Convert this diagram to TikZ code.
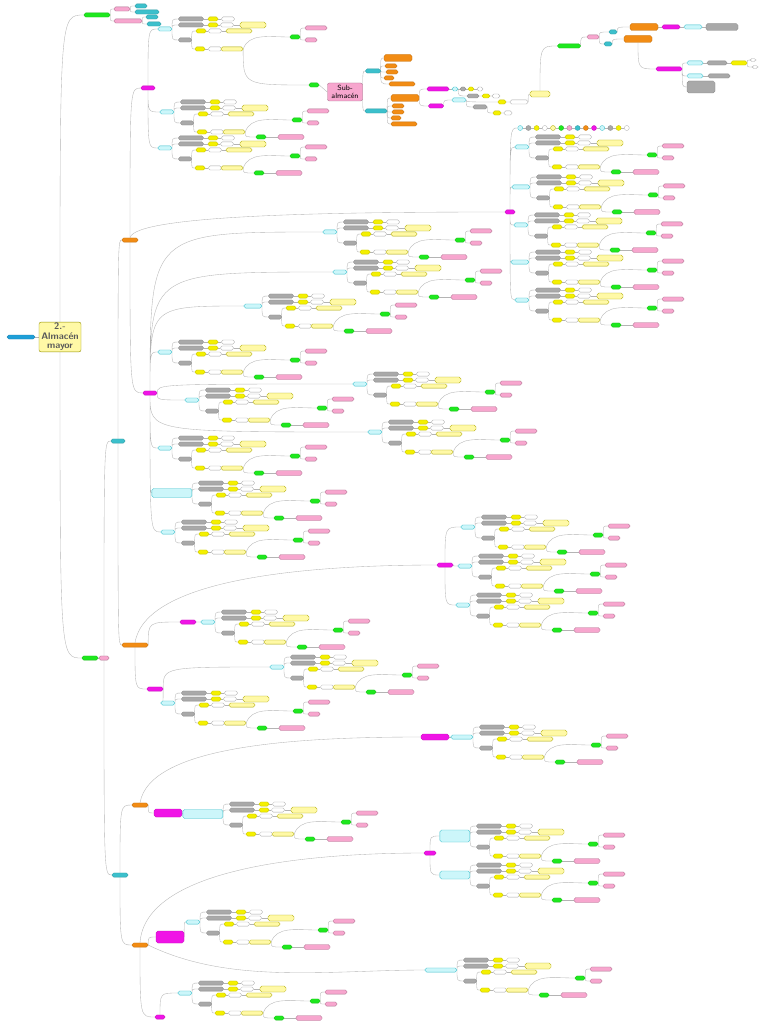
\documentclass[tikz,border=0pt]{standalone}
\usepackage{tikz}
\usetikzlibrary{backgrounds}
\usepackage{xcolor}

\definecolor{grnC}{HTML}{1EE81E}
\definecolor{magC}{HTML}{F014E6}
\definecolor{pnkC}{HTML}{F7A6CE}
\definecolor{teaC}{HTML}{3CC0CC}
\definecolor{lcyC}{HTML}{CCF6FA}
\definecolor{gryC}{HTML}{A9A9A9}
\definecolor{ylwC}{HTML}{F4F000}
\definecolor{lylC}{HTML}{FFF9A6}
\definecolor{orgC}{HTML}{F28C14}
\definecolor{bluC}{HTML}{1E9FD8}
\definecolor{lnkC}{HTML}{B4B4B4}

\tikzset{
  pill/.style={rounded corners=1.8pt, inner sep=0pt, minimum height=4.2pt, minimum width=10pt, line width=0.3pt},
  grn/.style={pill, fill=grnC, draw=grnC!80!black},
  mag/.style={pill, fill=magC, draw=magC!80!black, minimum width=15pt},
  pnk/.style={pill, fill=pnkC, draw=pnkC!70!black},
  tea/.style={pill, fill=teaC, draw=teaC!80!black},
  lcy/.style={pill, fill=lcyC, draw=teaC},
  gry/.style={pill, fill=gryC, draw=gryC!80!black},
  ylw/.style={pill, fill=ylwC, draw=ylwC!80!black},
  wht/.style={pill, fill=white, draw=gryC, minimum width=13pt},
  lyl/.style={pill, fill=lylC, draw=ylwC!70!black},
  org/.style={pill, fill=orgC, draw=orgC!80!black, minimum width=15pt},
  link/.style={draw=lnkC, line width=0.35pt},
  elb/.style={to path={.. controls (\tikztostart |- \tikztotarget) .. (\tikztotarget)}},
}

% bloque tipo: #1 posicion, #2 prefijo, #3 opciones del nodo cian
\newcommand{\blkbase}[3]{%
\begin{scope}[shift={#1}]
  \node[lcy, anchor=east, minimum width=14pt, #3] (#2c) at (7,0) {};
  \node[gry, minimum width=25pt] (#2g1) at (26,-10) {};
  \node[ylw] (#2y1) at (48,-10) {};
  \node[wht] (#2w1) at (63,-10) {};
  \node[gry, minimum width=25pt] (#2g2) at (26,-4) {};
  \node[ylw] (#2y2) at (48,-4) {};
  \node[wht] (#2w2) at (62,-4) {};
  \node[lyl, minimum width=26pt, minimum height=6pt] (#2l2) at (88,-4) {};
  \node[gry, minimum width=13pt] (#2g3) at (20,11) {};
  \node[ylw] (#2y3) at (36,2) {};
  \node[wht] (#2w3) at (50,2) {};
  \node[lyl, minimum width=26pt] (#2l3) at (74,2) {};
  \node[ylw] (#2y4) at (35,20) {};
  \node[wht] (#2w4) at (50,20) {};
  \node[lyl, minimum width=22pt] (#2l4) at (67,20) {};
  \node[grn] (#2ga) at (130,8) {};
  \node[pnk, minimum width=22pt] (#2pa) at (151,-1) {};
  \node[pnk, minimum width=12pt] (#2pb) at (146,11) {};
\end{scope}
\begin{scope}[on background layer]
  \draw[link] (#2c.east) to[elb] (#2g1.west) (#2c.east) to[elb] (#2g2.west)
    (#2c.east) to[elb] (#2g3.west);
  \draw[link] (#2g1.east) -- (#2y1.west) (#2y1.east) -- (#2w1.west);
  \draw[link] (#2g2.east) -- (#2y2.west) (#2y2.east) -- (#2w2.west) (#2w2.east) -- (#2l2.west);
  \draw[link] (#2g3.east) to[elb] (#2y3.west) (#2g3.east) to[elb] (#2y4.west);
  \draw[link] (#2y3.east) -- (#2w3.west) (#2w3.east) -- (#2l3.west);
  \draw[link] (#2y4.east) -- (#2w4.west) (#2w4.east) -- (#2l4.west);
  \draw[link] (#2l4.east) .. controls +(6,-16) and +(-22,0) .. (#2ga.west);
  \draw[link] (#2ga.east) to[elb] (#2pa.west) (#2ga.east) to[elb] (#2pb.west);
\end{scope}}

\newcommand{\blkend}[2]{%
\begin{scope}[shift={#1}]
  \node[grn] (#2gb) at (94,25) {};
  \node[pnk, minimum width=26pt, minimum height=5pt] (#2pc) at (124,25) {};
\end{scope}
\begin{scope}[on background layer]
  \draw[link] (#2l4.east) to[elb] (#2gb.west);
  \draw[link] (#2gb.east) -- (#2pc.west);
\end{scope}}

\newcommand{\blk}[3]{\blkbase{#1}{#2}{#3}\blkend{#1}{#2}}

\begin{document}
\begin{tikzpicture}[x=1pt, y=-1pt]

\useasboundingbox (0,0) rectangle (768,1024);
\begin{scope}[on background layer]
  \fill[white] (0,0) rectangle (768,1024);
\end{scope}

% Raiz
\node[fill=lylC, draw=ylwC!60!black, rounded corners=2pt, minimum width=42pt, minimum height=29pt,
  inner sep=1pt, align=center, text=black!65,
  font=\fontsize{9.5}{9.5}\selectfont\sffamily\bfseries] (root) at (60,337) {2.-\\Almacén\\mayor};
\node[pill, fill=bluC, draw=bluC!80!black, minimum width=28pt, minimum height=4pt] (blue) at (21,337) {};

% Rama superior
\node[grn, minimum width=26pt] (G1) at (97,15) {};
\node[pnk, minimum width=16pt] (PA) at (122,9) {};
\node[pnk, minimum width=28pt] (PB) at (128,21) {};
\node[tea, minimum width=12pt] (TL1) at (141,6) {};
\node[tea, minimum width=24pt] (TL2) at (147,12) {};
\node[tea, minimum width=12pt] (TL3) at (152,17) {};
\node[tea, minimum width=14pt] (TL4) at (154,24) {};

% Tronco
\node[grn, minimum width=16pt] (G2) at (90,658) {};
\node[pnk] (P2) at (104,658) {};
\node[tea, minimum width=14pt] (T1) at (118,441) {};
\node[tea, minimum width=16pt] (T2) at (120,875) {};
\node[org, minimum width=16pt] (O1) at (130,240) {};
\node[org, minimum width=26pt] (O2) at (135,645) {};
\node[org, minimum width=16pt] (O3) at (140,805) {};
\node[org, minimum width=16pt] (O4) at (140,945) {};

% Nodos magenta
\node[mag, minimum width=14pt] (M1) at (148,88) {};
\node[mag, minimum width=14pt] (M2) at (150,393) {};
\node[mag, minimum width=10pt] (HR) at (510,212) {};
\node[mag, minimum width=16pt] (M3) at (188,622) {};
\node[mag, minimum width=16pt] (M4) at (155,689) {};
\node[mag, minimum width=16pt] (M5) at (445,565) {};
\node[mag, minimum width=28pt, minimum height=8pt] (M6) at (168,813) {};
\node[mag, minimum width=28pt, minimum height=6pt] (M7) at (435,737) {};
\node[mag, minimum width=12pt] (M8) at (430,853) {};
\node[mag, minimum width=28pt, minimum height=12pt] (M9) at (170,937) {};
\node[mag, minimum width=10pt] (M10) at (160,1017) {};

% Bloques
\blkbase{(165,29)}{t}{}
\blk{(167,112)}{a1}{}
\blk{(165,148)}{a2}{}
\blk{(522,147)}{r1}{}
\blk{(523,187)}{r2}{minimum width=18pt}
\blk{(521,225)}{r3}{}
\blk{(522,262)}{r4}{minimum width=18pt}
\blk{(522,300)}{r5}{}
\blk{(330,232)}{m1}{}
\blk{(340,272)}{m2}{}
\blk{(255,306)}{m3}{minimum width=18pt}
\blk{(165,352)}{m4}{}
\blk{(192,400)}{m5}{}
\blk{(360,384)}{m6}{}
\blk{(375,432)}{m7}{}
\blk{(165,448)}{m8}{}
\blk{(185,493)}{m9}{minimum width=40pt, minimum height=9pt}
\blk{(168,532)}{m10}{}
\blk{(208,622)}{n1}{}
\blk{(168,703)}{n2}{}
\blk{(277,667)}{n3}{}
\blk{(468,527)}{n4}{}
\blk{(465,566)}{n5}{}
\blk{(463,605)}{n6}{}
\blk{(216,814)}{n7}{minimum width=40pt, minimum height=9pt}
\blk{(466,737)}{n8}{minimum width=22pt}
\blk{(463,836)}{n9}{minimum width=30pt, minimum height=12pt}
\blk{(463,875)}{n10}{minimum width=30pt, minimum height=8pt}
\blk{(193,922)}{n11}{}
\blk{(185,993)}{n12}{}
\blk{(450,970)}{n13}{minimum width=32pt}

% Fila de circulos
\foreach \s [count=\i] in {lcy,gry,ylw,wht,lyl,grn,pnk,tea,org,mag,lcy,gry,ylw,wht}
  \node[\s, minimum width=5pt, minimum height=5pt, rounded corners=2.5pt] (c\i) at ({512+8.2*\i},128) {};

% Sub-almacen
\node[grn] (tgb) at (314,85) {};
\node[fill=pnkC, draw=pnkC!70!black, rounded corners=2pt, minimum width=35pt, minimum height=18pt,
  inner sep=1pt, align=center, font=\fontsize{7.5}{8}\selectfont\sffamily] (sub) at (345,92) {Sub-\\almacén};
\node[tea, minimum width=15pt] (SA) at (373,71) {};
\node[tea, minimum width=22pt] (SB) at (376,111) {};
\node[org, minimum width=28pt, minimum height=7pt] (SA1) at (398,58) {};
\node[org, minimum width=12pt] (SA2) at (391,66) {};
\node[org, minimum width=12pt] (SA3) at (392,72) {};
\node[org, minimum width=10pt] (SA4) at (389,78) {};
\node[org, minimum width=26pt] (SA5) at (402,84) {};
\node[org, minimum width=28pt, minimum height=7pt] (SB1) at (405,98) {};
\node[org, minimum width=12pt] (SB2) at (398,106) {};
\node[org, minimum width=12pt] (SB3) at (398,112) {};
\node[org, minimum width=10pt] (SB4) at (396,118) {};
\node[org, minimum width=26pt] (SB5) at (404,124) {};
\node[mag, minimum width=22pt] (MA) at (438,89) {};
\node[mag, minimum width=15pt] (MB) at (436,106) {};
\node[lcy, minimum width=6pt, minimum height=4pt] (k1) at (455,89) {};
\node[gry, minimum width=6pt, minimum height=4pt] (k2) at (463,89) {};
\node[ylw, minimum width=6pt, minimum height=4pt] (k3) at (471,89) {};
\node[wht, minimum width=6pt, minimum height=4pt] (k4) at (480,89) {};
\node[gry, minimum width=12pt, minimum height=4pt] (k5) at (473,96) {};
\node[ylw, minimum width=8pt, minimum height=4pt] (k6) at (486,96) {};
\node[wht, minimum width=8pt, minimum height=4pt] (k7) at (496,96) {};
\node[lcy, minimum width=14pt] (Cb) at (459,100) {};
\node[gry, minimum width=14pt] (Gb) at (480,107) {};
\node[ylw, minimum width=8pt] (Yb2) at (497,113) {};
\node[wht, minimum width=8pt] (Wb2) at (508,113) {};
\node[ylw, minimum width=8pt] (Yb1) at (502,102) {};
\node[wht, minimum width=18pt] (Wb1) at (519,102) {};
\node[lyl, minimum width=20pt, minimum height=6pt] (LYb) at (540,94) {};

% Esquina superior derecha
\node[grn, minimum width=23pt] (GR) at (569,46) {};
\node[pnk, minimum width=12pt] (PR) at (593,37) {};
\node[tea, minimum width=8pt] (TR1) at (613,32) {};
\node[tea, minimum width=8pt] (TR2) at (608,44) {};
\node[org, minimum width=28pt, minimum height=7pt] (OR1) at (644,27) {};
\node[org, minimum width=28pt, minimum height=7pt] (OR2) at (638,39) {};
\node[mag, minimum width=18pt] (MG1) at (671,27) {};
\node[lcy, minimum width=18pt] (LC1) at (693,27) {};
\node[gry, minimum width=32pt, minimum height=7pt] (GY1) at (722,27) {};
\node[mag, minimum width=26pt] (MR) at (669,69) {};
\node[lcy, minimum width=16pt] (LC2) at (695,63) {};
\node[gry, minimum width=20pt] (GY2) at (717,63) {};
\node[ylw, minimum width=16pt] (YL2) at (739,63) {};
\node[wht, minimum width=6pt, minimum height=3pt] (WS1) at (753,60) {};
\node[wht, minimum width=6pt, minimum height=3pt] (WS2) at (755,67) {};
\node[lcy, minimum width=16pt] (LC3) at (695,76) {};
\node[gry, minimum width=22pt] (GY3) at (719,76) {};
\node[gry, minimum width=28pt, minimum height=12pt] (GB) at (701,87) {};

% Conectores
\begin{scope}[on background layer]
  \draw[link] (blue.east) -- (root.west);
  \draw[link] (root.north) to[elb] (G1.west) (root.south) to[elb] (G2.west);
  \draw[link] (G1.east) to[elb] (PA.west) (G1.east) to[elb] (PB.west);
  \draw[link] (PA.east) to[elb] (TL1.west) (PA.east) to[elb] (TL2.west);
  \draw[link] (PB.east) to[elb] (TL3.west) (PB.east) to[elb] (TL4.west);
  \draw[link] (G2.east) -- (P2.west);
  \draw[link] (P2.north) to[elb] (T1.west) (P2.south) to[elb] (T2.west);
  \draw[link] (T1.north) to[elb] (O1.west) (T1.south) to[elb] (O2.west);
  \draw[link] (T2.north) to[elb] (O3.west) (T2.south) to[elb] (O4.west);

  % O1
  \draw[link] (O1.north) to[elb] (M1.west) (O1.south) to[elb] (M2.west);
  \draw[link] (O1.north) .. controls (135,214) and (350,212) .. (HR.west);
  \draw[link] (M1.north) to[elb] (tc.west) (M1.south) to[elb] (a1c.west) (M1.south) to[elb] (a2c.west);
  \draw[link] (HR.north) to[elb] (c1.west) (HR.north) to[elb] (r1c.west) (HR.north) to[elb] (r2c.west);
  \draw[link] (HR.south) to[elb] (r3c.west) (HR.south) to[elb] (r4c.west) (HR.south) to[elb] (r5c.west);
  \foreach \i [count=\j from 2] in {1,...,13} \draw[link] (c\i.east) -- (c\j.west);
  \draw[link] (M2.north) to[elb] (m1c.west) (M2.north) to[elb] (m2c.west)
    (M2.north) to[elb] (m3c.west) (M2.north) to[elb] (m4c.west);
  \draw[link] (M2.east) to[elb] (m5c.west) (M2.east) to[elb] (m6c.west);
  \draw[link] (M2.south) to[elb] (m7c.west) (M2.south) to[elb] (m8c.west)
    (M2.south) to[elb] (m9c.west) (M2.south) to[elb] (m10c.west);

  % O2
  \draw[link] (O2.east) to[elb] (M3.west) (M3.east) -- (n1c.west);
  \draw[link] (O2.south) to[elb] (M4.west) (M4.east) to[elb] (n2c.west) (M4.east) to[elb] (n3c.west);
  \draw[link] (O2.north) .. controls (145,580) and (300,565) .. (M5.west);
  \draw[link] (M5.north) to[elb] (n4c.west) (M5.east) to[elb] (n5c.west) (M5.south) to[elb] (n6c.west);

  % O3 y O4
  \draw[link] (O3.east) to[elb] (M6.west) (M6.east) -- (n7c.west);
  \draw[link] (O3.north) .. controls (150,745) and (300,737) .. (M7.west);
  \draw[link] (M7.east) -- (n8c.west);
  \draw[link] (O4.north) .. controls (145,870) and (300,853) .. (M8.west);
  \draw[link] (M8.north) to[elb] (n9c.west) (M8.south) to[elb] (n10c.west);
  \draw[link] (O4.east) to[elb] (M9.west) (M9.east) to[elb] (n11c.west);
  \draw[link] (O4.south) to[elb] (M10.west) (M10.north) to[elb] (n12c.west);
  \draw[link] (O4.east) .. controls (230,985) and (330,970) .. (n13c.west);

  % Sub-almacen
  \draw[link] (tl4.east) to[elb] (tgb.west) (tgb.east) -- (sub.west);
  \draw[link] (sub.east) to[elb] (SA.west) (sub.east) to[elb] (SB.west);
  \foreach \k in {1,...,5} \draw[link] (SA.east) to[elb] (SA\k.west) (SB.east) to[elb] (SB\k.west);
  \draw[link] (SB1.east) to[elb] (MA.west) (SB1.east) to[elb] (MB.west);
  \draw[link] (MA.east) -- (k1.west) (k1.east) -- (k2.west) (k2.east) -- (k3.west) (k3.east) -- (k4.west);
  \draw[link] (k1.east) to[elb] (k5.west) (k5.east) -- (k6.west) (k6.east) -- (k7.west);
  \draw[link] (MB.east) to[elb] (Cb.west) (Cb.east) to[elb] (Gb.west) (Cb.east) to[elb] (Yb1.west);
  \draw[link] (Gb.east) to[elb] (Yb2.west) (Yb2.east) -- (Wb2.west);
  \draw[link] (Yb1.east) -- (Wb1.west) (Wb1.east) to[elb] (LYb.west);
  \draw[link] (LYb.north) to[elb] (GR.west);

  % Arriba a la derecha
  \draw[link] (GR.east) to[elb] (PR.west);
  \draw[link] (PR.east) to[elb] (TR1.west) (PR.east) to[elb] (TR2.west);
  \draw[link] (TR1.east) to[elb] (OR1.west) (TR2.east) to[elb] (OR2.west);
  \draw[link] (OR1.east) -- (MG1.west) (MG1.east) -- (LC1.west) (LC1.east) -- (GY1.west);
  \draw[link] (OR2.south) to[elb] (MR.west);
  \draw[link] (MR.east) to[elb] (LC2.west) (MR.east) to[elb] (LC3.west) (MR.east) to[elb] (GB.west);
  \draw[link] (LC2.east) -- (GY2.west) (GY2.east) -- (YL2.west);
  \draw[link] (YL2.east) to[elb] (WS1.west) (YL2.east) to[elb] (WS2.west);
  \draw[link] (LC3.east) -- (GY3.west);
\end{scope}

\end{tikzpicture}
\end{document}
